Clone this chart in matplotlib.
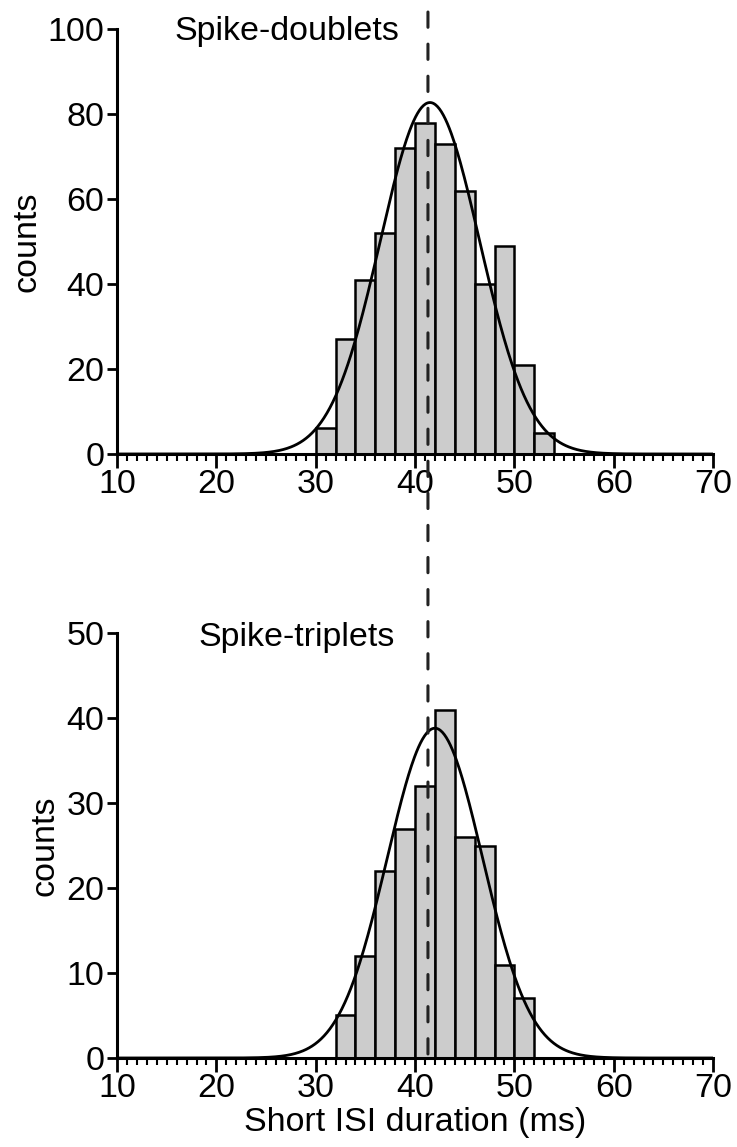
import numpy as np
import matplotlib
matplotlib.use("Agg")
import matplotlib.pyplot as plt
from matplotlib.patches import ConnectionPatch
from matplotlib.ticker import MultipleLocator

plt.rcParams['font.family'] = ['Liberation Sans', 'DejaVu Sans']

# histogram bins (ms), 2 ms wide
doublet_edges = [30, 32, 34, 36, 38, 40, 42, 44, 46, 48, 50, 52, 54]
doublet_counts = [6, 27, 41, 52, 72, 78, 73, 62, 40, 49, 21, 5]

triplet_edges = [32, 34, 36, 38, 40, 42, 44, 46, 48, 50, 52]
triplet_counts = [5, 12, 22, 27, 32, 41, 26, 25, 11, 7]

# gaussian fits: amplitude, mean, sd
doublet_fit = [82.7, 41.5, 5.0]
triplet_fit = [38.8, 42.0, 4.8]

mean_isi = 41.3

fig = plt.figure(figsize=(7.37, 11.47), dpi=100)
ax1 = fig.add_axes([0.1588, 0.6042, 0.8087, 0.3705])
ax2 = fig.add_axes([0.1588, 0.0776, 0.8087, 0.3705])

fs = 24.5


def draw_panel(ax, edges, counts, fit, ymax, ystep, title, tx, ty):
    edges = np.array(edges, dtype=float)
    ax.bar(edges[:-1], counts, width=np.diff(edges), align='edge',
           color='#cccccc', edgecolor='black', linewidth=1.8, zorder=2)
    x = np.linspace(10, 70, 600)
    amp, mu, sd = fit
    ax.plot(x, amp * np.exp(-(x - mu) ** 2 / (2 * sd ** 2)),
            color='black', lw=2, zorder=3)
    ax.set_xlim(10, 70)
    ax.set_ylim(0, ymax)
    ax.set_xticks(np.arange(10, 71, 10))
    ax.xaxis.set_minor_locator(MultipleLocator(1))
    ax.set_yticks(np.arange(0, ymax + 1, ystep))
    for s in ['top', 'right']:
        ax.spines[s].set_visible(False)
    for s in ['left', 'bottom']:
        ax.spines[s].set_linewidth(2.2)
    ax.tick_params(axis='x', which='major', length=10, width=2,
                   labelsize=fs, pad=1)
    ax.tick_params(axis='x', which='minor', length=5, width=1.5)
    ax.tick_params(axis='y', length=7, width=2, labelsize=fs, pad=2)
    ax.set_ylabel('counts', fontsize=fs, labelpad=4)
    ax.text(tx, ty, title, fontsize=fs, va='baseline', ha='left')


draw_panel(ax1, doublet_edges, doublet_counts, doublet_fit, 100, 20,
           'Spike-doublets', 15.8, 97.4)
draw_panel(ax2, triplet_edges, triplet_counts, triplet_fit, 50, 10,
           'Spike-triplets', 18.2, 48.5)
ax2.set_xlabel('Short ISI duration (ms)', fontsize=fs, labelpad=2)

# mean ISI marker running through both panels
con = ConnectionPatch(xyA=(mean_isi, 104), coordsA=ax1.transData,
                      xyB=(mean_isi, 0), coordsB=ax2.transData,
                      color='#222222', lw=2.2, linestyle=(0, (5.0, 5.5)),
                      zorder=5)
fig.add_artist(con)

fig.savefig('out.png', dpi=100)
